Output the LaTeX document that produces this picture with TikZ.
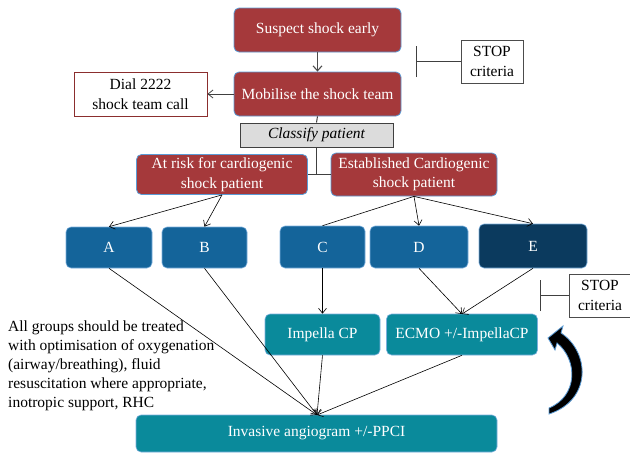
\documentclass[tikz,border=0pt]{standalone}
\usepackage{fontspec}
\setmainfont{Liberation Serif}
\usetikzlibrary{arrows.meta}
\definecolor{cred}{HTML}{A5393B}
\definecolor{cborder}{HTML}{5B9BD5}
\definecolor{cblue}{HTML}{14649A}
\definecolor{cdark}{HTML}{0B3A5E}
\definecolor{cteal}{HTML}{0A8A9B}
\definecolor{cgray}{HTML}{DCDCDC}
\definecolor{cdial}{HTML}{8B2E2E}
\tikzset{
  base/.style={rounded corners=5pt, inner sep=2pt, align=center, font=\fontsize{15.5}{19.5}\selectfont},
  redbox/.style={base, fill=cred, draw=cborder, line width=0.8pt, text=white},
  bluebox/.style={base, fill=cblue, draw=cborder!80, line width=0.6pt, text=white},
  darkbox/.style={base, fill=cdark, draw=cborder!80, line width=0.6pt, text=white},
  tealbox/.style={base, fill=cteal, draw=cborder!80, line width=0.6pt, text=white},
  stopbox/.style={base, rounded corners=0pt, draw=black!70, line width=0.8pt, fill=white},
  conn/.style={-{Straight Barb[length=5pt,width=8pt]}, line width=0.6pt, black},
  plain/.style={line width=0.6pt, black},
  stopbar/.style={-{Bar[width=31pt,line width=1pt]}, line width=1pt, black!75},
}
\begin{document}
\begin{tikzpicture}[x=1pt,y=-1pt]
\useasboundingbox (0,0) rectangle (630,453);
% top
\node[redbox, minimum width=167pt, minimum height=44pt] (sus) at (317.5,30) {Suspect shock early};
\node[redbox, minimum width=167pt, minimum height=44pt] (mob) at (317.5,94) {Mobilise the shock team};
\node[base, rounded corners=0pt, draw=cdial, line width=0.8pt, minimum width=133pt, minimum height=44pt] (dial) at (140.5,94) {Dial 2222\\shock team call};
\node[base, rounded corners=0pt, fill=cgray, draw=black!75, line width=1pt, minimum width=153pt, minimum height=24pt, font=\fontsize{15.5}{19.5}\selectfont\itshape] (cls) at (316.5,135) {Classify patient};
\node[redbox, minimum width=171pt, minimum height=40pt] (risk) at (222,174.5) {At risk for cardiogenic\\shock patient};
\node[redbox, minimum width=166pt, minimum height=43pt] (est) at (414,174.5) {Established Cardiogenic\\shock patient};
\node[stopbox, minimum width=62pt, minimum height=43pt] (stopa) at (492,61.5) {STOP\\criteria};
% groups
\node[bluebox, minimum width=86pt, minimum height=41pt] (A) at (109,247.5) {A};
\node[bluebox, minimum width=85pt, minimum height=41pt] (B) at (204.5,247.5) {B};
\node[bluebox, minimum width=85pt, minimum height=42pt] (C) at (322.5,247) {C};
\node[bluebox, minimum width=98pt, minimum height=42pt] (D) at (419,247) {D};
\node[darkbox, minimum width=108pt, minimum height=44pt] (E) at (533,246) {E};
% devices
\node[tealbox, minimum width=115pt, minimum height=41pt] (imp) at (322.5,334.5) {Impella CP};
\node[tealbox, minimum width=151pt, minimum height=41pt] (ecmo) at (462,334.5) {ECMO +/-ImpellaCP};
\node[tealbox, minimum width=361pt, minimum height=37pt] (inv) at (316.5,433.5) {Invasive angiogram +/-PPCI};
\node[stopbox, minimum width=61pt, minimum height=43pt] (stopb) at (600,295.5) {STOP\\criteria};
% note
\node[anchor=north west, align=left, inner sep=0pt, font=\fontsize{15.5}{19}\selectfont] (note) at (8,321) {All groups should be treated\\with optimisation of oxygenation\\(airway/breathing), fluid\\resuscitation where appropriate,\\inotropic support, RHC};
% connection points
\coordinate (invin) at (317,415);
\coordinate (ecmoin) at (462,314);
\coordinate (bara) at (415.5,61.5);
\coordinate (barb) at (540,295.5);
% connectors
\draw[-{Straight Barb[length=5pt,width=9pt]}, line width=1.1pt, black!70] (sus.south) -- (mob.north);
\draw[conn, black!75, line width=0.8pt] (mob.west) -- (dial.east);
\draw[plain, black!75, line width=1pt] (mob.south) -- (cls.north);
\draw[plain, black!75, line width=1pt] (cls.south) -- (cls.south |- risk.east);
\draw[plain, black!75, line width=1pt] (risk.east) -- (est.west);
\draw[stopbar] (stopa.west) -- (bara);
\draw[stopbar] (stopb.west) -- (barb);
\draw[conn] (risk.south) -- (A.north);
\draw[conn] (risk.south) -- (B.north);
\draw[plain] (est.south) -- (C.north);
\draw[conn] (est.south) -- (D.north);
\draw[conn] (est.south) -- (E.north);
\draw[conn] (A.south) -- (invin);
\draw[conn] (B.south) -- (invin);
\draw[conn] (C.south) -- (imp.north);
\draw[conn] (D.south) -- (ecmoin);
\draw[conn] (E.south) -- (ecmoin);
\draw[conn] (imp.south) -- (invin);
\draw[conn] (ecmo.south) -- (invin);
% curved arrow
\fill[black, draw=cborder, line width=0.8pt]
  (548,338) -- (563,326) -- (561,333)
  .. controls (590,352) and (592,400) .. (549,414)
  -- (549,408)
  .. controls (578,396) and (578,360) .. (557,343)
  -- (555,350) -- cycle;
\end{tikzpicture}
\end{document}
